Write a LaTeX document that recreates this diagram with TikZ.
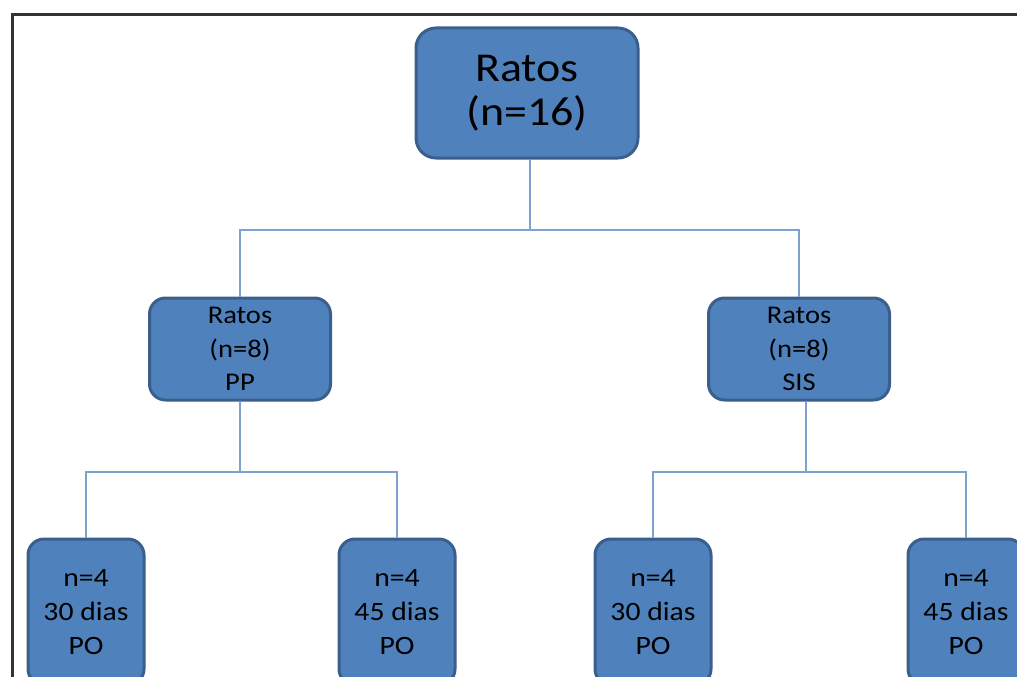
\documentclass[tikz,border=0pt]{standalone}
\usepackage{fontspec}
\setmainfont{Carlito}[FakeStretch=1.12]
\usepackage{xcolor}
\definecolor{boxblue}{HTML}{4F81BD}
\definecolor{boxedge}{HTML}{3A5F8D}
\definecolor{linkblue}{HTML}{7EA2CF}
\definecolor{framegray}{HTML}{333333}

\begin{document}
\begin{tikzpicture}[x=1pt,y=-1pt,
    grpbox/.style={draw=boxedge, line width=3pt, fill=boxblue, rounded corners=16pt,
      align=center, text=black, inner sep=0pt},
    link/.style={draw=linkblue, line width=2.2pt}]
    \useasboundingbox (0,0) rectangle (1017,677);
    \clip (0,0) rectangle (1017,677);
    \draw[framegray, line width=3pt] (12,677) -- (12,15) -- (1017,15);

    \node[grpbox, minimum width=222pt, minimum height=130pt, rounded corners=20pt,
      font=\fontsize{41}{44}\selectfont] (all) at (527,93) {Ratos\\(n=16)};

    \node[grpbox, minimum width=181pt, minimum height=102pt, font=\fontsize{25.5}{33.5}\selectfont]
      (pp) at (240,349) {Ratos\\(n=8)\\PP};
    \node[grpbox, minimum width=181pt, minimum height=102pt, font=\fontsize{25.5}{33.5}\selectfont]
      (sis) at (799,349) {Ratos\\(n=8)\\SIS};

    \node[grpbox, minimum width=116pt, minimum height=146pt, font=\fontsize{26.5}{34}\selectfont]
      (pp30) at (86,612) {n=4\\30 dias\\PO};
    \node[grpbox, minimum width=116pt, minimum height=146pt, font=\fontsize{26.5}{34}\selectfont]
      (pp45) at (397,612) {n=4\\45 dias\\PO};
    \node[grpbox, minimum width=116pt, minimum height=146pt, font=\fontsize{26.5}{34}\selectfont]
      (sis30) at (653,612) {n=4\\30 dias\\PO};
    \node[grpbox, minimum width=116pt, minimum height=146pt, font=\fontsize{26.5}{34}\selectfont]
      (sis45) at (966,612) {n=4\\45 dias\\PO};

    \coordinate (jall) at (530,230);
    \coordinate (jpp) at (240,472);
    \coordinate (jsis) at (806,472);

    \draw[link] (all.south -| jall) -- (jall);
    \draw[link] (pp.north) |- (jall) -| (sis.north);
    \draw[link] (pp.south) -- (jpp);
    \draw[link] (pp30.north) |- (jpp) -| (pp45.north);
    \draw[link] (sis.south -| jsis) -- (jsis);
    \draw[link] (sis30.north) |- (jsis) -| (sis45.north);
\end{tikzpicture}
\end{document}
